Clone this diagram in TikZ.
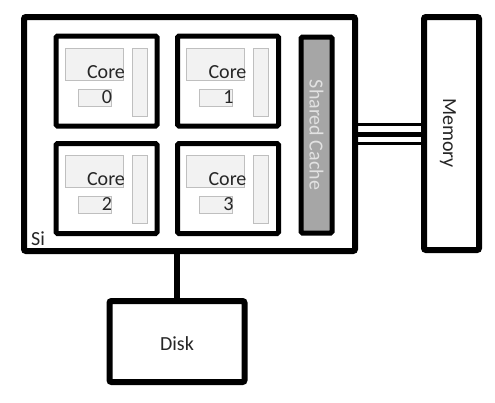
\documentclass[tikz,border=0pt]{standalone}
\usepackage{fontspec}
\setmainfont{Carlito}
\usetikzlibrary{calc}
\definecolor{lightfill}{HTML}{F2F2F2}
\definecolor{lightline}{HTML}{BFBFBF}
\definecolor{cachefill}{HTML}{A6A6A6}
\definecolor{cachetext}{HTML}{E2E2E2}
\definecolor{txt}{HTML}{262626}
\tikzset{
  bigbox/.style={draw=black, line width=6pt, rounded corners=2pt, fill=white, inner sep=0pt},
  corebox/.style={draw=black, line width=5pt, rounded corners=1.5pt, fill=white, inner sep=0pt, minimum width=101pt, minimum height=90pt},
  part/.style={draw=lightline, fill=lightfill, line width=0.8pt, inner sep=0pt},
  lbl/.style={text=txt, font=\fontsize{20}{21}\selectfont, inner sep=0pt},
}
\begin{document}
\begin{tikzpicture}[x=1pt, y=-1pt]
\useasboundingbox (0,0) rectangle (495,402);
% Si chip
\node[bigbox, minimum width=331pt, minimum height=234pt] (si) at (189.5,134) {};
\node[lbl, anchor=base west] (silbl) at (31,245) {Si};
% Cores
\foreach \n/\cx/\cy/\d in {c0/106.5/81/0, c1/228/81/1, c2/106.5/188.5/2, c3/228/188.5/3}{
  \node[corebox] (\n) at (\cx,\cy) {};
  \node[part, minimum width=58pt, minimum height=32pt] (\n g) at ($(\n.center)+(-12.5,-17)$) {};
  \node[part, minimum width=15pt, minimum height=68pt] (\n b) at ($(\n.center)+(33,1)$) {};
  \node[part, minimum width=33pt, minimum height=17pt] (\n s) at ($(\n.center)+(-12,16.5)$) {};
  \node[lbl] (\n t) at ($(\n.center)+(-0.5,-9)$) {Core};
  \node[lbl] (\n d) at ($(\n.center)+(0.5,16)$) {\d};
}
% Shared cache
\node[draw=black, line width=5pt, rounded corners=1.5pt, fill=cachefill, inner sep=0pt,
      minimum width=31pt, minimum height=196pt] (cache) at (316.5,135) {};
\node[lbl, text=cachetext, rotate=-90] (cachelbl) at (cache.center) {Shared Cache};
% Memory
\node[bigbox, minimum width=55pt, minimum height=233pt] (mem) at (451.5,133.5) {};
\node[lbl, rotate=-90] (memlbl) at (448,133) {Memory};
% Bus
\draw[line width=3.5pt] ([yshift=9.5pt]si.east) -- ([yshift=9.5pt]si.east -| mem.west);
\draw[line width=5pt] (si.east) -- (si.east -| mem.west);
\draw[line width=3.5pt] ([yshift=-9.5pt]si.east) -- ([yshift=-9.5pt]si.east -| mem.west);
% Disk
\node[bigbox, minimum width=135pt, minimum height=81pt] (disk) at (177,341.5) {};
\node[lbl] (disklbl) at (177,344) {Disk};
\draw[line width=6pt] (si.south -| disk.north) -- (disk.north);
\end{tikzpicture}
\end{document}
